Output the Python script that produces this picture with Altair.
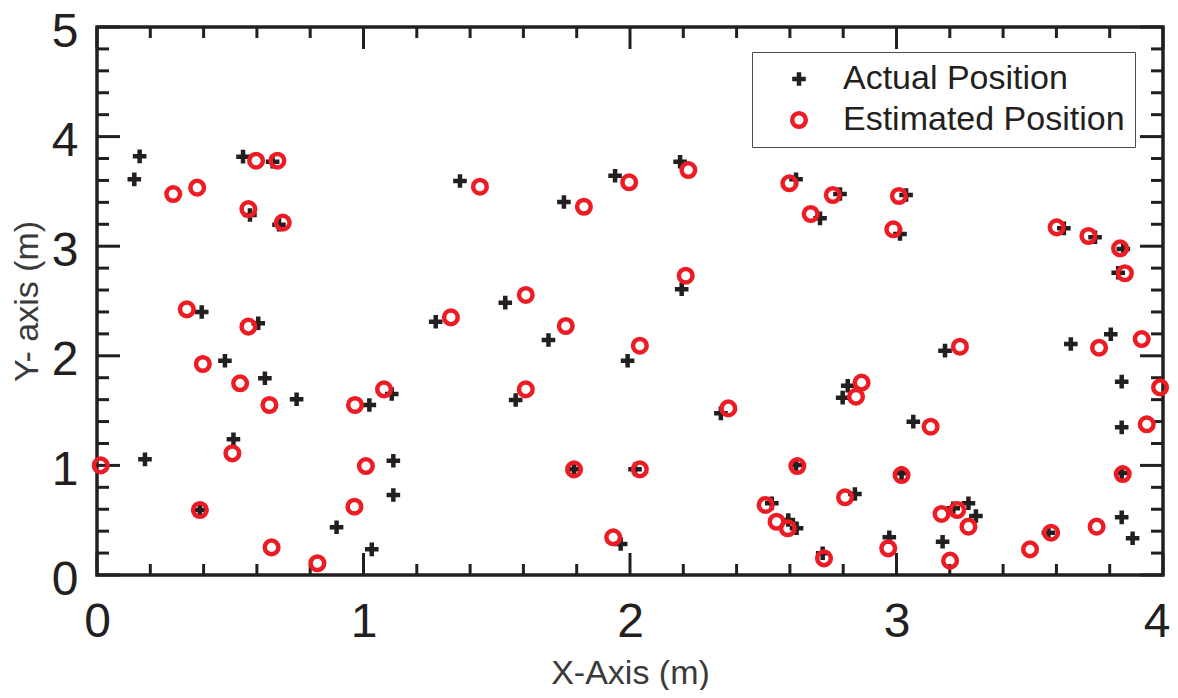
import altair as alt
import pandas as pd

# Actual positions (black plus)
actual_x = [0.16, 0.14, 0.548, 0.659, 0.574, 0.683, 0.393, 0.605, 0.48, 0.63,
            0.749, 1.022, 1.106, 0.512, 0.18, 1.112, 1.112, 0.386, 0.899, 1.031,
            1.362, 1.752, 1.944, 2.188, 2.194, 1.532, 1.271, 1.694, 1.991, 1.571,
            2.341, 1.79, 2.019, 1.965, 2.623, 2.788, 2.713, 3.036, 3.013, 3.628,
            3.745, 3.851, 3.832, 3.182, 3.654, 3.804, 2.817, 2.798, 3.063, 3.845,
            3.845, 2.623, 3.019, 3.845, 2.532, 2.594, 2.625, 2.844, 2.723, 2.973,
            3.213, 3.27, 3.298, 3.173, 3.57, 3.845, 3.886]
actual_y = [3.82, 3.61, 3.817, 3.77, 3.285, 3.196, 2.40, 2.297, 1.955, 1.795,
            1.603, 1.551, 1.651, 1.238, 1.055, 1.043, 0.73, 0.593, 0.435, 0.234,
            3.595, 3.403, 3.643, 3.771, 2.607, 2.485, 2.311, 2.144, 1.955, 1.597,
            1.475, 0.964, 0.964, 0.283, 3.61, 3.476, 3.254, 3.467, 3.111, 3.163,
            3.081, 2.974, 2.758, 2.047, 2.108, 2.196, 1.727, 1.618, 1.399, 1.764,
            1.347, 1.004, 0.928, 0.93, 0.654, 0.502, 0.426, 0.739, 0.198, 0.344,
            0.608, 0.654, 0.538, 0.304, 0.386, 0.526, 0.335]

# Estimated positions (red circle)
est_x = [0.286, 0.376, 0.597, 0.677, 0.568, 0.697, 0.337, 0.568, 0.397, 0.537,
         0.647, 0.968, 1.077, 0.508, 0.014, 1.009, 0.386, 0.966, 0.655, 0.827,
         1.437, 1.827, 1.997, 2.219, 2.209, 1.609, 1.328, 1.759, 2.037, 1.609,
         2.369, 1.79, 2.037, 1.937, 2.598, 2.761, 2.678, 3.009, 2.988, 3.601,
         3.72, 3.839, 3.857, 3.238, 3.76, 3.92, 2.869, 2.848, 3.128, 3.989,
         3.939, 2.628, 3.019, 3.849, 2.509, 2.55, 2.592, 2.807, 2.728, 2.969,
         3.169, 3.228, 3.27, 3.201, 3.501, 3.58, 3.751]
est_y = [3.476, 3.534, 3.78, 3.78, 3.339, 3.215, 2.424, 2.266, 1.925, 1.749,
         1.551, 1.551, 1.694, 1.11, 1.0, 0.994, 0.593, 0.623, 0.252, 0.107,
         3.543, 3.36, 3.583, 3.695, 2.731, 2.555, 2.351, 2.272, 2.092, 1.694,
         1.52, 0.964, 0.964, 0.344, 3.574, 3.467, 3.294, 3.458, 3.154, 3.172,
         3.093, 2.98, 2.753, 2.083, 2.074, 2.153, 1.755, 1.627, 1.353, 1.712,
         1.375, 0.994, 0.912, 0.921, 0.639, 0.486, 0.426, 0.709, 0.152, 0.243,
         0.557, 0.593, 0.441, 0.131, 0.234, 0.386, 0.441]

series_names = ["Actual Position", "Estimated Position"]
x_major = [0, 1, 2, 3, 4]
x_minor = [0.2, 0.4, 0.6, 0.8, 1.2, 1.4, 1.6, 1.8, 2.2, 2.4, 2.6, 2.8,
           3.2, 3.4, 3.6, 3.8]
y_major = [0, 1, 2, 3, 4, 5]
y_minor = [0.2, 0.4, 0.6, 0.8, 1.2, 1.4, 1.6, 1.8, 2.2, 2.4, 2.6, 2.8,
           3.2, 3.4, 3.6, 3.8, 4.2, 4.4, 4.6, 4.8]

W, H = 1066, 548
INK = "#231F20"
RED = "#ED1C24"
FONT = "Liberation Sans"

rows = []
for i, (a, b) in enumerate(zip(actual_x, actual_y)):
    rows.append({"x": a, "y": b, "series": series_names[0], "ord": i})
for i, (a, b) in enumerate(zip(est_x, est_y)):
    rows.append({"x": a, "y": b, "series": series_names[1], "ord": 100 + i})
df = pd.DataFrame(rows)

xs = alt.Scale(domain=[0, 4], nice=False, zero=False)
ys = alt.Scale(domain=[0, 5], nice=False, zero=False)

last_x = x_major[-1]
x_axis = alt.Axis(values=x_major, format="d", title="X-Axis (m)",
                  labelFlush=False, labelOverlap=False, labelPadding=23,
                  labelAlign=alt.condition(f"datum.value == {last_x}",
                                           alt.value("right"), alt.value("center")),
                  labelOffset=alt.condition(f"datum.value == {last_x}",
                                            alt.value(7), alt.value(0)),
                  titlePadding=10)
y_axis = alt.Axis(values=y_major, format="d", title="Y- axis (m)",
                  labelFlush=False, labelOverlap=False, labelPadding=19,
                  labelOffset=5, titlePadding=7)

leg = alt.Legend(
    title=None, orient="none", legendX=655, legendY=25,
    labelFont=FONT, labelFontSize=34, labelColor=INK, labelLimit=500,
    symbolSize=185, symbolStrokeWidth=4.5, symbolOffset=20,
    labelOffset=27, rowPadding=7, padding=10,
    strokeColor="#4d4d4d", fillColor="white",
)

pts = alt.Chart(df).mark_point(filled=False, strokeWidth=4.5, size=185, opacity=1).encode(
    x=alt.X("x:Q", scale=xs, axis=x_axis),
    y=alt.Y("y:Q", scale=ys, axis=y_axis),
    color=alt.Color("series:N", scale=alt.Scale(domain=series_names, range=[INK, RED]), legend=leg),
    shape=alt.Shape("series:N", scale=alt.Scale(domain=series_names,
                    range=["M-1,0H1M0,-1V1", "circle"]), legend=leg),
    order=alt.Order("ord:Q"),
)

def xticks(vals, length, top):
    d = pd.DataFrame({"v": vals})
    if top:
        y0, y1 = 0, length
    else:
        y0, y1 = H, H - length
    return alt.Chart(d).mark_rule(color=INK, strokeWidth=3).encode(
        x=alt.X("v:Q", scale=xs, axis=x_axis),
        y=alt.value(y0), y2=alt.value(y1))

def yticks(vals, length, right):
    d = pd.DataFrame({"v": vals})
    if right:
        x0, x1 = W, W - length
    else:
        x0, x1 = 0, length
    return alt.Chart(d).mark_rule(color=INK, strokeWidth=3).encode(
        y=alt.Y("v:Q", scale=ys, axis=y_axis),
        x=alt.value(x0), x2=alt.value(x1))

layers = [
    xticks(x_major, 22, False), xticks(x_minor, 11, False),
    xticks(x_major, 22, True), xticks(x_minor, 11, True),
    yticks(y_major, 23, False), yticks(y_minor, 12, False),
    yticks(y_major, 23, True), yticks(y_minor, 12, True),
    pts,
]

chart = alt.layer(*layers).properties(
    width=W, height=H,
    autosize=alt.AutoSizeParams(type="none"),
    padding={"left": 89, "top": 19, "right": 7, "bottom": 115},
).configure_view(
    stroke=INK, strokeWidth=3.5
).configure_axis(
    grid=False, ticks=False, domain=False, tickSize=0,
    labelFont=FONT, labelFontSize=48, labelColor=INK,
    titleFont=FONT, titleFontSize=34, titleFontWeight="normal", titleColor="#3a3a3a",
)

chart.save("out.html", embed_options={"renderer": "svg", "actions": False})
